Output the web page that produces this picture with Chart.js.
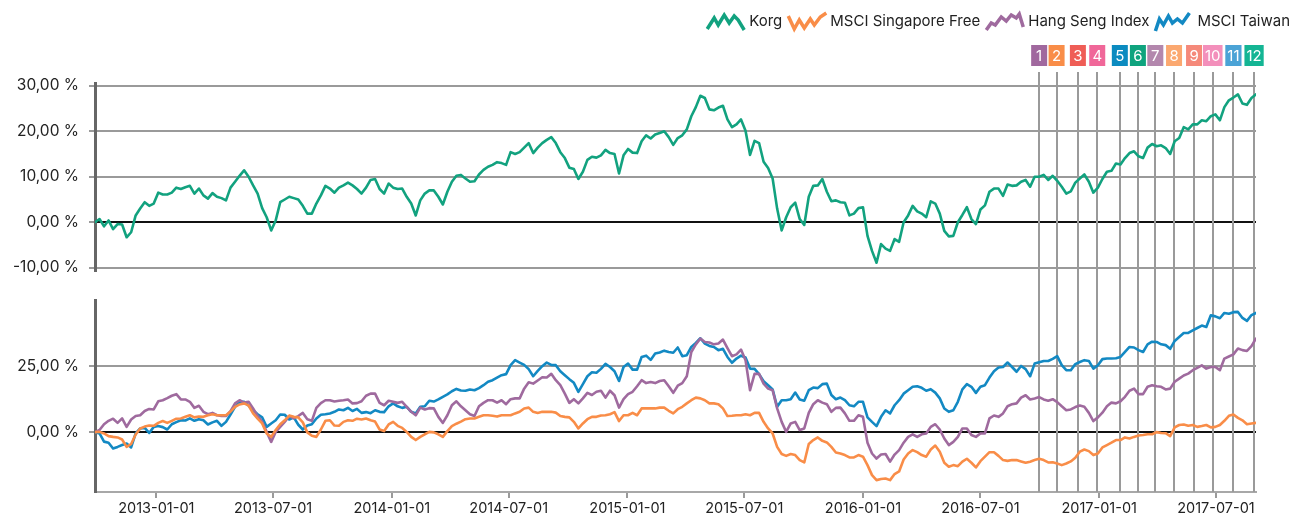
<!DOCTYPE html>
<html>
<head>
<meta charset="utf-8">
<script src="https://cdn.jsdelivr.net/npm/chart.js@4.4.0/dist/chart.umd.min.js"></script>
<style>
  html, body { margin: 0; padding: 0; background: #fff; }
  #wrap { position: relative; width: 1292px; height: 517px; overflow: hidden; }
  #topChart { position: absolute; left: 0; top: 0; }
  #bottomChart { position: absolute; left: 0; top: 281px; }
</style>
</head>
<body>
<div id="wrap">
  <canvas id="topChart" width="1292" height="290"></canvas>
  <canvas id="bottomChart" width="1292" height="236"></canvas>
</div>
<script>
const FONT = 'Inter, "Noto Sans", sans-serif';

// weekly points, first one on startDate
const startDate = '2012-09-28';
const stepDays = 7;

const seriesNames = ['Korg', 'MSCI Singapore Free', 'Hang Seng Index', 'MSCI Taiwan'];
const seriesColors = ['#12a27f', '#f98d48', '#9f6a9e', '#1389c3'];

const korg = [
  0.0, 0.7, -0.9, 0.4, -1.5, -0.4, -0.5, -3.3, -2.2, 1.5,
  3.0, 4.4, 3.6, 4.1, 6.5, 6.1, 6.1, 6.5, 7.6, 7.3,
  7.7, 8.0, 6.3, 7.4, 5.9, 5.2, 6.4, 5.6, 5.3, 4.8,
  7.6, 8.9, 10.2, 11.4, 10.0, 8.1, 6.3, 3.1, 1.1, -1.8,
  0.4, 4.4, 5.0, 5.6, 5.3, 5.0, 3.6, 1.9, 1.9, 4.1,
  5.9, 8.0, 7.4, 6.5, 7.6, 8.1, 8.7, 8.1, 7.3, 6.3,
  7.6, 9.3, 9.5, 7.3, 6.3, 8.5, 7.6, 7.3, 7.4, 5.6,
  4.1, 1.5, 4.8, 6.3, 7.0, 7.0, 5.6, 3.9, 6.7, 8.9,
  10.2, 10.4, 9.6, 8.9, 9.0, 10.5, 11.5, 12.2, 12.6, 13.2,
  13.0, 12.6, 15.4, 15.0, 15.4, 16.4, 17.4, 15.2, 16.4, 17.4,
  18.1, 18.7, 17.4, 15.4, 14.1, 12.0, 11.7, 9.5, 11.1, 13.7,
  14.4, 14.2, 14.7, 15.9, 15.2, 15.0, 10.7, 14.7, 16.1, 15.3,
  15.2, 17.8, 19.1, 18.4, 19.3, 19.6, 20.0, 18.7, 17.0, 18.5,
  19.1, 20.4, 23.3, 25.3, 27.8, 27.3, 24.8, 24.6, 25.2, 25.6,
  22.6, 20.9, 21.5, 22.6, 20.1, 14.8, 17.9, 17.4, 13.3, 11.9,
  9.6, 3.0, -1.8, 1.1, 3.3, 4.3, 0.7, -0.6, 5.6, 8.0,
  8.1, 9.5, 6.7, 4.6, 4.8, 4.4, 4.3, 1.5, 1.9, 3.1,
  3.3, -3.0, -6.3, -8.9, -4.8, -5.8, -6.3, -3.7, -4.3, 0.0,
  1.5, 3.6, 2.4, 1.9, 1.1, 4.6, 4.1, 1.9, -1.9, -3.1,
  -3.0, 0.0, 1.6, 3.3, 0.7, -0.4, 2.8, 3.7, 6.7, 7.4,
  7.4, 5.8, 8.3, 8.0, 8.1, 8.9, 9.3, 7.8, 10.0, 10.0,
  10.4, 9.3, 10.2, 9.1, 7.8, 6.3, 6.8, 8.7, 9.6, 10.5,
  8.9, 6.5, 7.6, 9.5, 11.1, 11.3, 12.9, 12.7, 14.1, 15.2,
  15.6, 14.5, 14.1, 16.4, 17.2, 16.7, 16.9, 16.3, 15.0, 17.8,
  18.5, 20.9, 20.4, 21.5, 21.5, 22.4, 22.2, 23.3, 23.7, 22.4,
  25.3, 26.8, 27.4, 28.1, 26.1, 25.8, 27.3, 28.1
];

const singapore = [
  0.0, 0.1, -0.5, -1.5, -1.8, -2.0, -2.8, -5.6, -4.5, -0.9,
  1.4, 2.1, 2.5, 2.4, 3.5, 4.2, 3.5, 4.3, 5.1, 5.2,
  5.8, 6.4, 5.6, 5.9, 5.8, 6.4, 6.8, 6.4, 6.4, 6.4,
  7.8, 9.6, 10.5, 10.9, 10.1, 7.1, 5.1, 3.3, -0.5, -1.8,
  0.8, 3.0, 4.5, 6.3, 5.8, 5.6, 3.7, -0.1, -1.4, -1.8,
  1.0, 4.3, 4.5, 2.5, 2.4, 3.9, 4.5, 4.3, 5.1, 4.8,
  5.2, 4.5, 4.0, 1.0, 0.4, 2.9, 3.9, 2.4, 1.6, 0.1,
  -1.8, -3.0, -1.8, -0.8, 0.1, -0.1, -0.8, -1.8, 0.4, 2.3,
  3.2, 4.0, 4.9, 5.2, 5.2, 5.8, 6.4, 6.4, 6.2, 5.9,
  6.4, 6.4, 6.4, 7.1, 7.7, 9.0, 9.3, 7.7, 7.3, 7.7,
  7.7, 7.7, 7.4, 6.1, 5.8, 5.6, 3.9, 1.4, 3.3, 4.9,
  5.8, 5.8, 6.3, 6.4, 6.8, 7.6, 4.2, 6.4, 6.4, 7.3,
  6.4, 9.0, 9.0, 9.0, 9.0, 9.3, 9.3, 8.1, 7.1, 8.7,
  9.6, 10.9, 12.1, 13.1, 12.8, 12.1, 10.9, 10.9, 10.6, 9.0,
  6.1, 6.2, 6.4, 6.4, 6.8, 6.4, 7.3, 7.3, 3.9, 1.4,
  -0.5, -5.6, -8.3, -9.0, -8.3, -8.7, -10.6, -11.5, -4.5, -3.0,
  -2.0, -3.3, -3.9, -5.6, -7.7, -8.1, -8.7, -9.6, -9.6, -8.7,
  -9.3, -12.5, -16.3, -18.2, -17.8, -17.6, -18.2, -15.9, -14.9, -10.4,
  -8.1, -6.8, -7.6, -8.7, -9.3, -6.6, -5.1, -7.4, -11.6, -13.1,
  -12.5, -12.9, -11.2, -10.1, -11.6, -13.4, -11.0, -9.3, -7.6, -7.6,
  -9.0, -10.6, -10.9, -10.6, -10.6, -11.1, -11.6, -11.2, -10.6, -10.1,
  -10.6, -11.5, -11.4, -11.9, -12.5, -11.9, -11.1, -9.7, -7.4, -6.6,
  -7.2, -8.7, -8.1, -5.8, -4.9, -4.0, -3.0, -3.0, -2.0, -2.4,
  -1.8, -1.3, -1.1, -0.8, -0.8, 0.0, -0.3, -0.4, -1.5, 1.8,
  2.7, 2.9, 2.4, 2.7, 2.0, 2.3, 2.7, 1.8, 2.0, 2.7,
  4.3, 6.2, 6.7, 5.4, 4.5, 3.0, 3.3, 3.5
];

const hangSeng = [
  0.0, 0.8, 3.0, 4.3, 5.1, 3.5, 5.2, 2.0, 4.8, 6.1,
  6.4, 8.0, 8.8, 8.6, 11.7, 12.1, 12.9, 13.8, 14.4, 12.4,
  12.4, 11.5, 9.2, 10.0, 7.7, 6.8, 7.3, 6.4, 6.1, 6.1,
  8.0, 10.9, 12.1, 11.2, 11.5, 9.0, 6.1, 3.9, 0.1, -3.7,
  0.1, 2.0, 3.9, 6.1, 5.2, 6.1, 7.3, 4.9, 4.3, 9.2,
  11.0, 12.1, 12.1, 11.6, 11.9, 12.1, 12.4, 10.9, 11.0, 11.7,
  13.8, 14.6, 14.6, 11.1, 10.2, 11.9, 11.5, 11.1, 11.5, 9.6,
  7.7, 6.4, 9.3, 8.6, 9.1, 9.0, 5.8, 3.5, 6.4, 10.2,
  11.7, 9.8, 8.3, 6.8, 6.1, 9.8, 11.1, 12.1, 12.1, 11.2,
  12.1, 10.6, 12.5, 12.8, 12.8, 16.5, 18.9, 18.4, 19.6, 20.8,
  20.7, 22.1, 19.7, 17.8, 14.6, 11.1, 12.5, 10.9, 12.8, 14.9,
  14.1, 15.3, 15.7, 13.1, 15.7, 14.0, 9.3, 12.5, 14.4, 15.3,
  17.4, 19.7, 18.6, 19.0, 18.6, 19.4, 19.7, 17.4, 14.9, 17.6,
  18.6, 21.2, 30.4, 33.3, 35.5, 34.2, 34.0, 33.3, 33.6, 35.1,
  31.9, 28.8, 29.5, 31.3, 27.3, 15.9, 22.1, 22.1, 18.4, 16.5,
  15.9, 9.0, 3.9, 0.1, 3.3, 3.9, 0.8, 1.4, 7.3, 10.6,
  12.1, 11.2, 10.6, 7.7, 9.2, 9.3, 7.1, 4.3, 4.3, 6.4,
  5.8, -4.0, -8.1, -10.0, -8.5, -8.3, -11.2, -8.5, -6.8, -4.0,
  -1.8, -0.8, -1.8, -0.8, -0.5, 2.0, 3.0, 1.0, -2.4, -4.9,
  -3.7, -1.8, 1.4, 1.4, -1.1, -1.8, -0.5, -0.5, 5.2, 6.3,
  5.8, 7.1, 9.8, 10.6, 10.9, 13.1, 14.0, 12.4, 12.8, 13.3,
  12.4, 11.9, 12.5, 11.4, 9.8, 8.3, 8.6, 9.5, 10.1, 9.6,
  7.3, 4.2, 5.6, 7.4, 9.8, 11.2, 10.9, 11.7, 13.4, 15.7,
  16.5, 14.4, 14.4, 17.2, 17.8, 17.4, 17.2, 16.2, 16.5, 19.1,
  20.3, 21.5, 22.2, 23.5, 24.4, 25.3, 24.1, 24.7, 24.7, 23.5,
  27.9, 28.7, 29.5, 31.7, 31.1, 30.8, 32.6, 35.5
];

const taiwan = [
  0.0, -0.5, -3.6, -4.0, -6.2, -5.6, -4.9, -4.3, -5.8, -0.5,
  1.4, 1.6, -0.3, 2.0, 2.3, 1.9, 1.0, 3.0, 3.8, 4.5,
  4.4, 5.2, 4.3, 4.9, 4.5, 2.9, 3.7, 4.3, 2.4, 3.9,
  6.7, 9.6, 11.4, 11.5, 10.1, 8.3, 6.8, 5.6, 2.0, 3.3,
  4.5, 6.7, 6.6, 4.8, 5.6, 2.8, 1.0, 2.5, 3.0, 5.2,
  6.6, 6.8, 7.1, 7.7, 8.6, 8.3, 9.2, 8.0, 8.8, 7.3,
  7.6, 7.2, 8.3, 7.7, 7.6, 9.8, 10.9, 9.8, 9.2, 9.6,
  7.7, 7.1, 9.6, 9.8, 11.9, 11.6, 12.4, 13.4, 14.3, 15.5,
  16.4, 15.8, 15.7, 16.2, 15.9, 16.7, 17.8, 19.1, 19.7, 20.7,
  21.6, 22.0, 25.4, 27.3, 26.4, 25.5, 23.9, 21.2, 23.2, 25.0,
  26.4, 25.5, 25.4, 23.1, 21.6, 20.1, 18.7, 15.3, 18.2, 21.2,
  22.7, 22.5, 24.0, 25.9, 24.7, 23.1, 19.4, 24.7, 26.0, 23.7,
  23.7, 28.5, 29.0, 27.4, 29.8, 30.2, 30.9, 30.4, 30.1, 32.1,
  28.8, 29.2, 32.3, 33.8, 35.6, 33.6, 32.7, 32.3, 31.1, 31.6,
  28.5, 26.3, 27.9, 29.0, 28.3, 24.1, 24.0, 22.0, 19.3, 17.8,
  16.2, 9.6, 12.1, 12.1, 12.5, 15.0, 12.4, 11.9, 15.9, 16.9,
  16.7, 18.2, 18.4, 14.1, 12.5, 13.1, 12.1, 10.2, 9.8, 11.5,
  11.5, 5.6, 3.9, 2.3, 5.8, 8.3, 7.1, 10.2, 12.1, 14.6,
  15.9, 17.2, 17.4, 16.8, 15.7, 16.3, 15.0, 12.8, 9.0, 7.7,
  8.3, 11.5, 16.2, 18.2, 17.2, 14.9, 17.2, 17.8, 20.7, 23.1,
  24.5, 24.7, 26.4, 24.7, 22.9, 25.1, 23.9, 21.2, 26.0, 26.5,
  27.0, 27.0, 27.8, 28.8, 25.4, 23.5, 23.5, 25.8, 26.6, 27.3,
  27.0, 24.1, 25.4, 27.7, 27.9, 27.9, 28.0, 28.5, 30.4, 32.3,
  32.1, 31.1, 30.4, 33.3, 34.3, 34.2, 33.3, 33.0, 31.6, 34.6,
  36.1, 37.6, 37.6, 38.6, 39.5, 40.4, 39.9, 44.3, 43.9, 43.2,
  45.2, 44.9, 45.5, 45.6, 43.3, 42.2, 44.4, 45.2
];

const xTickDates = ['2013-01-01', '2013-07-01', '2014-01-01', '2014-07-01', '2015-01-01',
                    '2015-07-01', '2016-01-01', '2016-07-01', '2017-01-01', '2017-07-01'];
const topTicks = [-10, 0, 10, 20, 30];
const bottomTicks = [0, 25];

// numbered event markers
const eventDates = ['2016-09-30', '2016-10-27', '2016-11-29', '2016-12-29', '2017-02-02', '2017-03-02',
                    '2017-03-29', '2017-04-27', '2017-05-28', '2017-06-26', '2017-07-28', '2017-08-29'];
const eventColors = ['#a0689e', '#f98d48', '#ef5d56', '#f06799', '#0b8bc0', '#0fa37e',
                     '#b387ad', '#fba870', '#f5897a', '#f38fbb', '#4ba3d6', '#14b594'];

const DAY = 86400000;
const startMs = Date.parse(startDate);
const dayOf = s => Math.round((Date.parse(s) - startMs) / DAY);
const dateOf = d => new Date(startMs + d * DAY).toISOString().slice(0, 10);
const days = korg.map((_, i) => i * stepDays);
const pct = v => v.toFixed(2).replace('.', ',') + ' %';

function xScale(show) {
    return {
        type: 'linear',
        min: 0,
        max: days[days.length - 1],
        display: show,
        afterBuildTicks: s => { s.ticks = xTickDates.map(d => ({ value: dayOf(d) })); },
        afterFit: s => { if (show) s.height = 25; },
        grid: { drawOnChartArea: false, drawTicks: true, tickLength: 6, color: '#9a9a9a', lineWidth: 2 },
        border: { display: true, color: '#a8a8a8', width: 2 },
        ticks: {
            autoSkip: false, maxRotation: 0, padding: 2, color: '#222',
            font: { family: FONT, size: 14.5 },
            callback: v => dateOf(v)
        }
    };
}

function yScale(min, max, ticks) {
    return {
        min: min,
        max: max,
        afterBuildTicks: s => { s.ticks = ticks.map(v => ({ value: v })); },
        afterFit: s => { s.width = 95; },
        grid: {
            color: c => (c.tick && c.tick.value === 0) ? '#111' : '#9a9a9a',
            tickColor: '#9a9a9a',
            lineWidth: 2,
            tickLength: 6
        },
        border: { color: '#666', width: 3 },
        ticks: {
            padding: 10, color: '#222',
            font: { family: FONT, size: 15.5 },
            callback: v => pct(v)
        }
    };
}

function lineSet(label, data, color) {
    return {
        label: label,
        data: data,
        borderColor: color,
        backgroundColor: color,
        borderWidth: 2.6,
        pointRadius: 0,
        tension: 0,
        fill: false,
        borderJoinStyle: 'round',
        borderCapStyle: 'round'
    };
}

// vertical grey lines for the events, under the series
const eventLines = {
    id: 'eventLines',
    beforeDatasetsDraw(chart, args, opts) {
        const { ctx, scales: { x } } = chart;
        const bottom = opts.toArea ? chart.chartArea.bottom : chart.height;
        ctx.save();
        ctx.lineWidth = 2;
        ctx.strokeStyle = '#9a9a9a';
        eventDates.forEach(d => {
            const px = Math.round(x.getPixelForValue(dayOf(d)));
            ctx.beginPath();
            ctx.moveTo(px, opts.top);
            ctx.lineTo(px, bottom);
            ctx.stroke();
        });
        ctx.restore();
    }
};

const markerBoxes = {
    id: 'markerBoxes',
    afterDraw(chart) {
        const { ctx, scales: { x } } = chart;
        ctx.save();
        ctx.font = '15px ' + FONT;
        ctx.textAlign = 'center';
        ctx.textBaseline = 'middle';
        eventDates.forEach((d, i) => {
            const px = x.getPixelForValue(dayOf(d));
            const label = String(i + 1);
            const w = Math.max(16, ctx.measureText(label).width + 4);
            ctx.fillStyle = eventColors[i];
            ctx.fillRect(px - w / 2, 45, w, 21);
            ctx.fillStyle = '#fff';
            ctx.fillText(label, px, 56);
        });
        ctx.restore();
    }
};

// little zigzag icons like in the original legend
const iconShapes = [
    [[0, 18], [7, 7], [11, 14], [17, 4], [22, 12], [27, 5], [31, 9], [37, 19]],
    [[0, 5], [6, 18], [11, 9], [16, 17], [22, 8], [26, 14], [32, 6], [38, 2]],
    [[0, 19], [5, 12], [9, 14], [15, 6], [20, 10], [25, 4], [30, 7], [33, 3], [37, 16]],
    [[0, 20], [4, 8], [8, 14], [13, 5], [17, 12], [22, 8], [27, 12], [34, 2]]
];

const seriesLegend = {
    id: 'seriesLegend',
    afterDraw(chart) {
        const ctx = chart.ctx;
        const y = 21;
        let right = 1290;
        ctx.save();
        ctx.font = '15px ' + FONT;
        ctx.textBaseline = 'middle';
        for (let i = seriesNames.length - 1; i >= 0; i--) {
            const w = ctx.measureText(seriesNames[i]).width;
            const tx = right - w;
            ctx.fillStyle = '#222';
            ctx.fillText(seriesNames[i], tx, y);
            const ix = tx - 42;
            ctx.strokeStyle = seriesColors[i];
            ctx.lineWidth = 3.5;
            ctx.lineJoin = 'miter';
            ctx.miterLimit = 3;
            ctx.beginPath();
            iconShapes[i].forEach((p, k) => {
                if (k === 0) ctx.moveTo(ix + p[0], y - 10 + p[1]);
                else ctx.lineTo(ix + p[0], y - 10 + p[1]);
            });
            ctx.stroke();
            right = ix - 6;
        }
        ctx.restore();
    }
};

// y tick labels add ~19px of padding below the top panel and above the bottom one,
// so the canvases overlap a little to keep the panel edges at 270 and 300
new Chart(document.getElementById('topChart'), {
    type: 'line',
    data: {
        labels: days,
        datasets: [lineSet(seriesNames[0], korg, seriesColors[0])]
    },
    options: {
        responsive: false,
        animation: false,
        layout: { padding: { top: 83, right: 36, bottom: 19, left: 0 } },
        scales: { x: xScale(false), y: yScale(-10.65, 30.6, topTicks) },
        plugins: {
            legend: { display: false },
            tooltip: { enabled: false },
            eventLines: { top: 72, toArea: false }
        }
    },
    plugins: [eventLines, markerBoxes, seriesLegend]
});

new Chart(document.getElementById('bottomChart'), {
    type: 'line',
    data: {
        labels: days,
        datasets: [
            lineSet(seriesNames[1], singapore, seriesColors[1]),
            lineSet(seriesNames[2], hangSeng, seriesColors[2]),
            lineSet(seriesNames[3], taiwan, seriesColors[3])
        ]
    },
    options: {
        responsive: false,
        animation: false,
        layout: { padding: { top: 19, right: 36, bottom: 0, left: 0 } },
        scales: { x: xScale(true), y: yScale(-22.7, 50, bottomTicks) },
        plugins: {
            legend: { display: false },
            tooltip: { enabled: false },
            eventLines: { top: 0, toArea: true }
        }
    },
    plugins: [eventLines]
});
</script>
</body>
</html>
